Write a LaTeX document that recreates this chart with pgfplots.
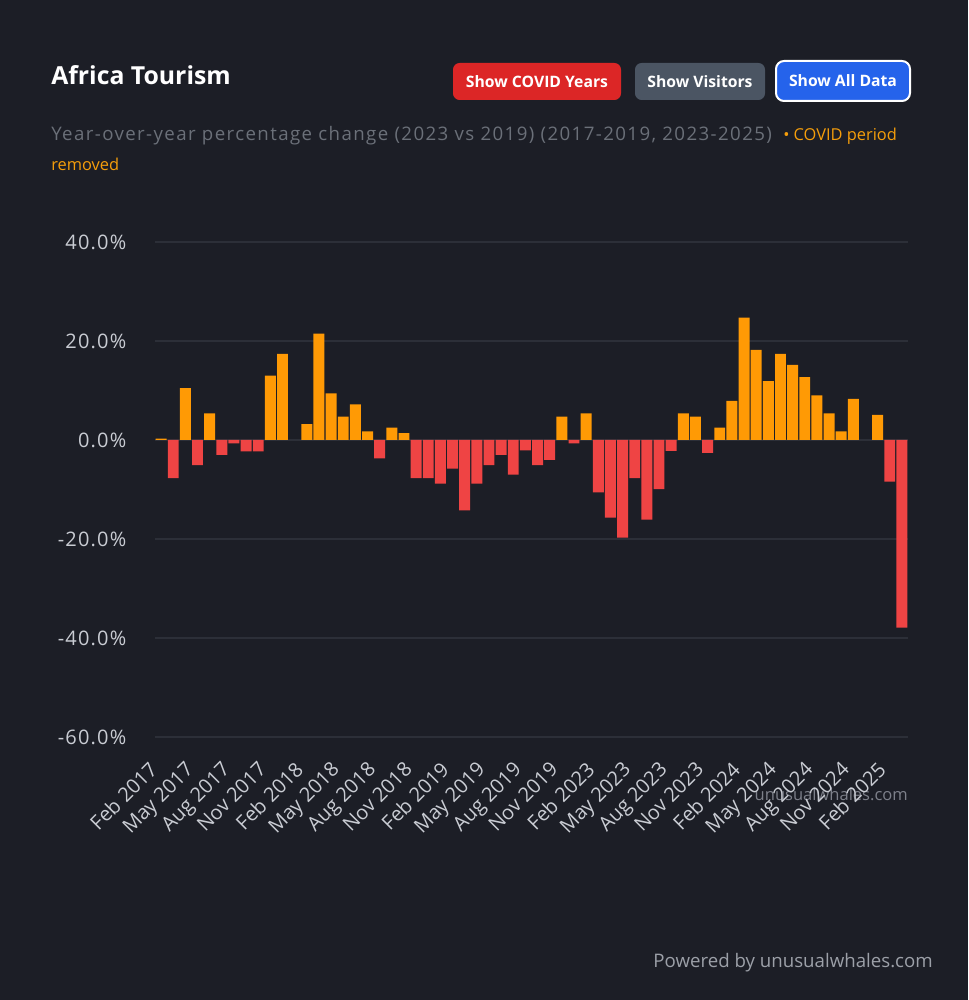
\documentclass[border=0pt]{standalone}
\usepackage{fontspec}
\setmainfont{Open Sans}
\usepackage{pgfplots}
\usepackage{pgfplotstable}
\pgfplotsset{compat=1.18}
\definecolor{bg}{HTML}{1C1E26}
\definecolor{gridc}{HTML}{2C2F38}
\definecolor{tickc}{HTML}{C9CCD3}
\definecolor{orangec}{HTML}{FF9A05}
\definecolor{redc}{HTML}{EF4444}
\definecolor{subc}{HTML}{6B7079}
\definecolor{covidc}{HTML}{F59E0B}
\definecolor{btnred}{HTML}{DC2626}
\definecolor{btngray}{HTML}{4B5563}
\definecolor{btnblue}{HTML}{2563EB}
\definecolor{wmc}{HTML}{7D808A}
\definecolor{footc}{HTML}{9CA0A8}

\pgfplotstableread{
idx val
0 0.3
1 -7.7
2 10.5
3 -5.1
4 5.4
5 -3.0
6 -0.7
7 -2.3
8 -2.3
9 13.0
10 17.4
11 nan
12 3.2
13 21.5
14 9.4
15 4.7
16 7.2
17 1.75
18 -3.7
19 2.5
20 1.4
21 -7.7
22 -7.7
23 -8.8
24 -5.8
25 -14.2
26 -8.8
27 -5.1
28 -3.0
29 -7.0
30 -2.1
31 -5.1
32 -4.0
33 4.7
34 -0.7
35 5.4
36 -10.6
37 -15.7
38 -19.7
39 -7.7
40 -16.1
41 -9.9
42 -2.2
43 5.4
44 4.7
45 -2.6
46 2.5
47 7.9
48 24.7
49 18.2
50 11.9
51 17.4
52 15.2
53 12.7
54 9.0
55 5.4
56 1.75
57 8.3
58 nan
59 5.1
60 -8.4
61 -37.9
}\datatable

\begin{document}
\begin{tikzpicture}
\begin{scope}[x=0.75pt,y=0.75pt]
\fill[bg] (0,0) rectangle (968,1000);
% title
\node[anchor=base west, inner sep=0, text=white, font=\fontsize{18.6}{20}\selectfont\bfseries] at (51,915) {Africa Tourism};
% buttons
\fill[btnred, rounded corners=5pt] (453,900) rectangle (621,937);
\node[text=white, font=\fontsize{11.8}{13}\selectfont\bfseries] at (537,918.5) {Show COVID Years};
\fill[btngray, rounded corners=5pt] (635,900) rectangle (765,937);
\node[text=white, font=\fontsize{11.8}{13}\selectfont\bfseries] at (700,918.5) {Show Visitors};
\draw[white, fill=btnblue, line width=1.5pt, rounded corners=6pt] (776,899) rectangle (910,939);
\node[text=white, font=\fontsize{11.8}{13}\selectfont\bfseries] at (843,919) {Show All Data};
% subtitle
\node[anchor=base west, inner sep=0, text=subc, font=\fontsize{14}{16}\selectfont\addfontfeatures{LetterSpace=7.5}] at (51,859) {Year-over-year percentage change (2023 vs 2019) (2017-2019, 2023-2025)};
\node[anchor=base west, inner sep=0, text=covidc, font=\fontsize{12.3}{14}\selectfont] at (783,859) {\textbullet\ COVID period};
\node[anchor=base west, inner sep=0, text=covidc, font=\fontsize{12.3}{14}\selectfont] at (51,829) {removed};
% watermark
\node[anchor=base east, inner sep=0, text=wmc, font=\fontsize{12.4}{14}\selectfont] at (908,199) {unusualwhales.com};
% footer
\node[anchor=base east, inner sep=0, text=footc, font=\fontsize{14}{16}\selectfont] at (933,32) {Powered by unusualwhales.com};
\end{scope}
\begin{axis}[
  at={(116.25pt,197.25pt)}, anchor=south west,
  scale only axis, width=564.75pt, height=371.25pt,
  xmin=-0.5, xmax=61.5, ymin=-60, ymax=40,
  axis line style={draw=none},
  ytick={-60,-40,-20,0,20,40},
  yticklabels={-60.0\%,-40.0\%,-20.0\%,0.0\%,20.0\%,40.0\%},
  ymajorgrids, grid style={color=gridc, line width=0.8pt},
  major tick length=0pt,
  xtick={0,3,...,60},
  xticklabels={Feb 2017,May 2017,Aug 2017,Nov 2017,Feb 2018,May 2018,Aug 2018,Nov 2018,Feb 2019,May 2019,Aug 2019,Nov 2019,Feb 2023,May 2023,Aug 2023,Nov 2023,Feb 2024,May 2024,Aug 2024,Nov 2024,Feb 2025},
  tick label style={text=tickc},
  yticklabel style={font=\fontsize{15}{17}\selectfont\addfontfeatures{LetterSpace=6}, anchor=east, xshift=-18pt},
  xticklabel style={font=\fontsize{15}{17}\selectfont, rotate=45, anchor=north east, yshift=-2pt, xshift=-16pt},
  ybar, bar width=8.2pt,
]
\addplot[fill=orangec, draw=none, bar shift=0pt, y filter/.expression={y>=0 ? y : nan}] table[x=idx,y=val]{\datatable};
\addplot[fill=redc, draw=none, bar shift=0pt, y filter/.expression={y<0 ? y : nan}] table[x=idx,y=val]{\datatable};
\end{axis}
\end{tikzpicture}
\end{document}
